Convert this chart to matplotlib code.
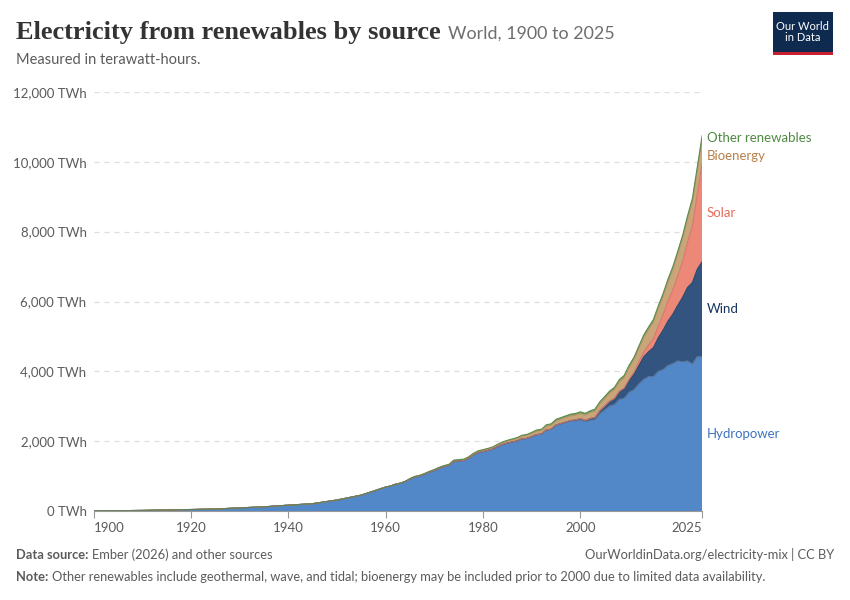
import numpy as np
import matplotlib.pyplot as plt
from matplotlib.patches import Rectangle

# years: every 5 years to 1955, then yearly
years = [1900, 1905, 1910, 1915, 1920, 1925, 1930, 1935, 1940, 1945, 1950, 1955] + list(range(1960, 2026))

hydro = [10, 15, 22, 35, 48, 62, 95, 125, 172, 215, 320, 460,
         690, 720, 770, 800, 850, 920, 980, 1010, 1060, 1120,
         1170, 1230, 1280, 1310, 1430, 1440, 1450, 1510, 1610, 1680,
         1710, 1740, 1780, 1850, 1910, 1950, 1980, 2010, 2070, 2080,
         2130, 2190, 2200, 2320, 2340, 2460, 2500, 2540, 2580, 2590,
         2620, 2560, 2600, 2620, 2790, 2900, 3010, 3050, 3200, 3230,
         3400, 3480, 3640, 3770, 3850, 3850, 4000, 4050, 4170, 4220,
         4300, 4270, 4300, 4210, 4420, 4420]

wind = [0] * 12 + [0] * 25 + [
    0.5, 1, 1, 2, 3,
    4, 4, 5, 6, 7, 8, 9, 12, 16, 21,
    31, 38, 52, 63, 85, 104, 132, 171, 221, 276,
    342, 437, 523, 646, 712, 831, 962, 1135, 1270, 1420,
    1590, 1850, 2100, 2330, 2500, 2720]

solar = [0] * 12 + [0] * 40 + [
    1, 1, 2, 2, 3, 4, 6, 8, 12, 21,
    32, 64, 100, 136, 191, 256, 329, 445, 571, 694,
    846, 1030, 1290, 1630, 2130, 2800]

bioenergy = [0] * 12 + [0] * 5 + [
    10, 11, 12, 13, 14, 15, 16, 18, 20, 22,
    24, 26, 28, 30, 33, 36, 39, 42, 46, 50,
    55, 60, 66, 72, 80, 86, 92, 98, 104, 110,
    116, 122, 126, 130, 134,
    139, 148, 163, 179, 195, 212, 228, 250, 268, 291,
    330, 350, 385, 413, 440, 470, 500, 520, 545, 580,
    610, 650, 660, 680, 690, 700]

other = [0] * 12 + [0] * 5 + [
    5, 5, 6, 6, 7, 7, 8, 8, 9, 10,
    11, 12, 13, 14, 15, 16, 17, 18, 20, 22,
    24, 26, 28, 30, 33, 35, 37, 40, 42, 44,
    46, 48, 50, 51, 52,
    53, 54, 55, 57, 60, 61, 62, 64, 66, 68,
    70, 71, 72, 74, 77, 80, 82, 84, 86, 88,
    92, 94, 96, 97, 98, 100]

names = ['Hydropower', 'Wind', 'Solar', 'Bioenergy', 'Other renewables']
fill_colors = ['#5388C8', '#33547E', '#EC8878', '#C9A57A', '#6E9C5C']
edge_colors = ['#4A7AB5', '#2A466B', '#D9776A', '#B8956C', '#5F8C4E']
label_colors = ['#3E74C0', '#15345D', '#E46C5C', '#B8804A', '#4F8A42']

series = [hydro, wind, solar, bioenergy, other]
for s in series:
    assert len(s) == len(years), len(s)

plt.rcParams['font.family'] = ['Lato', 'DejaVu Sans']

fig = plt.figure(figsize=(8.5, 6), dpi=100)
ax = fig.add_axes([0.110, 0.148, 0.716, 0.699])

ax.stackplot(years, *series, colors=fill_colors, edgecolor='none')
# thin outlines on each layer top
tops = np.cumsum(np.array(series, dtype=float), axis=0)
for top, ec in zip(tops, edge_colors):
    ax.plot(years, top, color=ec, lw=0.8)
ax.plot(years, tops[0], color='#6b6b6b', lw=0.6, alpha=0.5)

ax.set_xlim(1900, 2025)
ax.set_ylim(0, 12000)

yticks = [0, 2000, 4000, 6000, 8000, 10000, 12000]
ax.set_yticks(yticks)
ax.set_yticklabels([f'{v:,} TWh' for v in yticks], color='#5b5b5b', fontsize=9.5)
ax.tick_params(axis='y', length=0, pad=5)
for v in yticks[1:]:
    ax.axhline(v, color='#dddddd', lw=0.9, ls=(0, (4, 4)), zorder=0)

xticks = [1900, 1920, 1940, 1960, 1980, 2000, 2025]
ax.set_xticks(xticks)
ax.set_xticklabels([str(v) for v in xticks], color='#5b5b5b', fontsize=9.5)
ax.tick_params(axis='x', length=5, color='#999999', pad=3)
xl = ax.get_xticklabels()
xl[0].set_ha('left')
xl[-1].set_ha('right')

for s in ['top', 'right', 'left']:
    ax.spines[s].set_visible(False)
ax.spines['bottom'].set_color('#999999')

# series labels at the right end
last = [s[-1] for s in series]
cum = np.cumsum(last)
mids = cum - np.array(last) / 2
label_y = list(mids)
label_y[3] = mids[3] - 130
label_y[4] = cum[4] - 50
for name, y, c in zip(names, label_y, label_colors):
    ax.text(2026.0, y, name, color=c, fontsize=9.5, va='center', ha='left', clip_on=False)

renderer = fig.canvas.get_renderer()


def text_after(t, gap_px, y, s, **kw):
    bb = t.get_window_extent(renderer=renderer)
    x = (bb.x1 + gap_px) / fig.bbox.width
    return fig.text(x, y, s, **kw)


# header
title = fig.text(0.019, 0.935, 'Electricity from renewables by source', fontsize=19,
                 family='Liberation Serif', weight='bold', color='#333333', va='baseline')
text_after(title, 7, 0.935, 'World, 1900 to 2025', fontsize=12.9, color='#6e6e6e',
           va='baseline')
fig.text(0.019, 0.893, 'Measured in terawatt-hours.', fontsize=10.5, color='#5b5b5b', va='baseline')

# logo
fig.patches.append(Rectangle((0.909, 0.913), 0.071, 0.067, transform=fig.transFigure,
                             facecolor='#0E2A4F', edgecolor='none'))
fig.patches.append(Rectangle((0.909, 0.908), 0.071, 0.006, transform=fig.transFigure,
                             facecolor='#C8202F', edgecolor='none'))
fig.text(0.9445, 0.947, 'Our World\nin Data', fontsize=8, color='white', ha='center',
         va='center', linespacing=1.0)

# footer
fsz = 9.3
src = fig.text(0.019, 0.068, 'Data source:', fontsize=fsz, color='#5b5b5b', weight='bold',
               va='baseline')
text_after(src, 3, 0.068, 'Ember (2026) and other sources', fontsize=fsz, color='#5b5b5b',
           va='baseline')
fig.text(0.981, 0.068, 'OurWorldinData.org/electricity-mix | CC BY', fontsize=fsz,
         color='#5b5b5b', ha='right', va='baseline')
note = fig.text(0.019, 0.032, 'Note:', fontsize=fsz, color='#5b5b5b', weight='bold',
                va='baseline')
text_after(note, 3, 0.032, 'Other renewables include geothermal, wave, and tidal; bioenergy may '
           'be included prior to 2000 due to limited data availability.', fontsize=fsz,
           color='#5b5b5b', va='baseline')

fig.savefig('out.png', dpi=100)
